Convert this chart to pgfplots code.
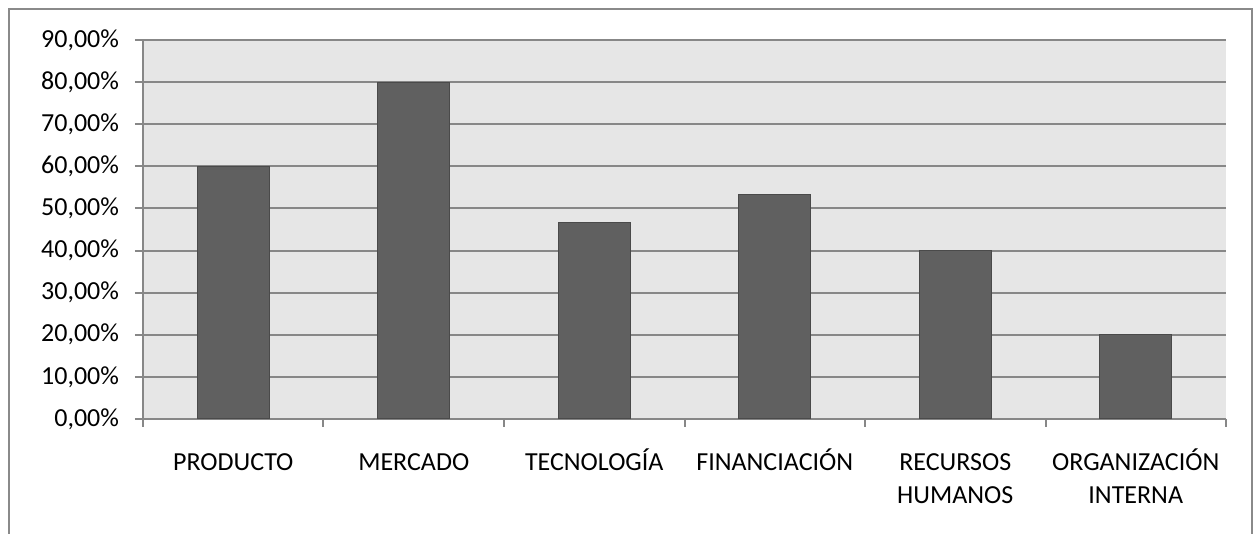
\documentclass[border=0pt]{standalone}
\usepackage{pgfplots}
\pgfplotsset{compat=1.18}
\usepackage{fontspec}
\setmainfont{Carlito}
\definecolor{plotbg}{HTML}{E6E6E6}
\definecolor{gridgray}{HTML}{878787}
\definecolor{bordergray}{HTML}{8A8A8A}
\definecolor{barfill}{HTML}{606060}
\definecolor{baredge}{HTML}{4A4A4A}
\newcommand{\st}{\rule{0pt}{11pt}}
\begin{document}
\begin{tikzpicture}[x=1pt,y=1pt]
\useasboundingbox (0,0) rectangle (627.5,267);
\draw[line width=1pt, color=bordergray] (4.5,-5) rectangle (626,262.5);
\begin{axis}[
  at={(71.5pt,57.5pt)}, anchor=south west,
  scale only axis, width=541.5pt, height=189.5pt,
  xmin=-0.5, xmax=5.5, ymin=0, ymax=90,
  axis background/.style={fill=plotbg},
  axis x line*=bottom, axis y line*=left,
  axis line style={-, gridgray, line width=1pt},
  ymajorgrids, grid style={gridgray, line width=1pt},
  ytick={0,10,...,90},
  tick align=outside, major tick length=4pt,
  tick style={gridgray, line width=1pt},
  xtick={-0.5,0.5,...,5.5}, xticklabels={},
  extra x ticks={0,1,2,3,4,5},
  extra x tick labels={\st PRODUCTO,\st MERCADO,\st TECNOLOGÍA,\st FINANCIACIÓN,{\st RECURSOS\\HUMANOS},{\st ORGANIZACIÓN\\INTERNA}},
  extra x tick style={major tick length=0pt, grid=none},
  x tick label style={align=center, anchor=north, yshift=-11.2pt, font=\fontsize{13}{16.5}\selectfont},
  y tick label style={font=\fontsize{13}{15}\selectfont, xshift=-4.5pt},
  /pgf/number format/assume math mode=true,
  yticklabel={\pgfmathprintnumber[fixed,fixed zerofill,precision=2,use comma]{\tick}\%},
]
\addplot[ybar, bar width=0.4, fill=barfill, draw=baredge, line width=0.6pt]
  coordinates {(0,60) (1,80) (2,46.67) (3,53.33) (4,40) (5,20)};
\end{axis}
\end{tikzpicture}
\end{document}
